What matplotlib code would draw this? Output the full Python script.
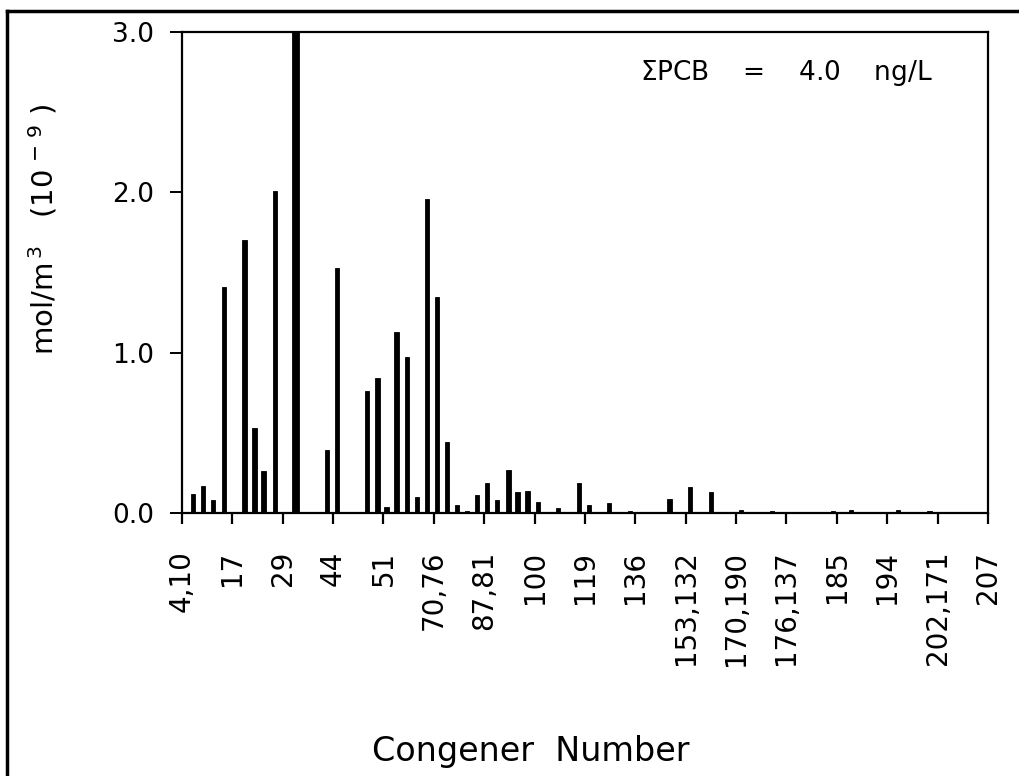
import matplotlib.pyplot as plt
from matplotlib.lines import Line2D

# Congener slots along the x axis (5 slots between labelled ticks) and concentrations
posicion = [1.1, 2.1, 3.1, 4.2, 6.2, 7.2, 8.1, 9.2, 11.3, 14.4, 15.4,
            18.4, 19.4, 20.3, 21.3, 22.3, 23.3, 24.3, 25.3, 26.3, 27.3,
            28.3, 29.3, 30.3, 31.3, 32.4, 33.3, 34.3, 35.3, 37.3, 39.4,
            40.4, 42.4, 44.5, 48.4, 50.4, 52.5, 55.5, 58.6, 64.6, 66.4,
            71.1, 74.2]
concentracion = [0.12, 0.17, 0.08, 1.41, 1.70, 0.53, 0.26, 2.01, 3.00, 0.39, 1.53,
                 0.76, 0.84, 0.04, 1.13, 0.97, 0.10, 1.96, 1.35, 0.44, 0.05,
                 0.01, 0.11, 0.19, 0.08, 0.27, 0.13, 0.14, 0.07, 0.03, 0.19,
                 0.05, 0.06, 0.01, 0.09, 0.16, 0.13, 0.02, 0.015, 0.01, 0.02,
                 0.02, 0.01]

etiquetas_x = ["4,10", "17", "29", "44", "51", "70,76", "87,81", "100", "119",
               "136", "153,132", "170,190", "176,137", "185", "194", "202,171", "207"]
ticks_x = [5 * i for i in range(len(etiquetas_x))]
ticks_y = [0.0, 1.0, 2.0, 3.0]

plt.rcParams['font.family'] = 'DejaVu Sans'

fig = plt.figure(figsize=(10.2, 7.76), dpi=100)
ax = fig.add_axes([0.1784, 0.3389, 0.7902, 0.6199])

anchos = [0.7 if v >= 3.0 else 0.42 for v in concentracion]
ax.bar(posicion, concentracion, width=anchos, color='black', edgecolor='black',
       linewidth=0.6)

ax.set_xlim(0, 80)
ax.set_ylim(0, 3.0)
ax.set_xticks(ticks_x)
ax.set_xticklabels(etiquetas_x, rotation=90, fontsize=20)
ax.set_yticks(ticks_y)
ax.set_yticklabels([f"{v:.1f}" for v in ticks_y], fontsize=19)
ax.tick_params(axis='x', direction='out', length=8, width=1.6, pad=19)
ax.tick_params(axis='y', direction='out', length=9, width=1.4, pad=11)
for lado in ax.spines.values():
    lado.set_linewidth(1.6)

ax.set_ylabel(r"mol/m$^{\,3}$   (10$^{\,-\,9}$ )", fontsize=21)
ax.yaxis.set_label_coords(-0.152, 0.59)

ax.text(0.568, 0.915, r"$\Sigma$PCB    =    4.0    ng/L", transform=ax.transAxes,
        fontsize=19, ha='left', va='center')

fig.text(0.52, 0.031, "Congener  Number", fontsize=24, ha='center', va='center')

# marco del escaneo original
fig.add_artist(Line2D([0.007, 0.007], [0.0, 0.986], color='black', lw=2.5,
                      transform=fig.transFigure))
fig.add_artist(Line2D([0.007, 1.0], [0.986, 0.986], color='black', lw=2.5,
                      transform=fig.transFigure))

fig.savefig('out.png', dpi=100)
